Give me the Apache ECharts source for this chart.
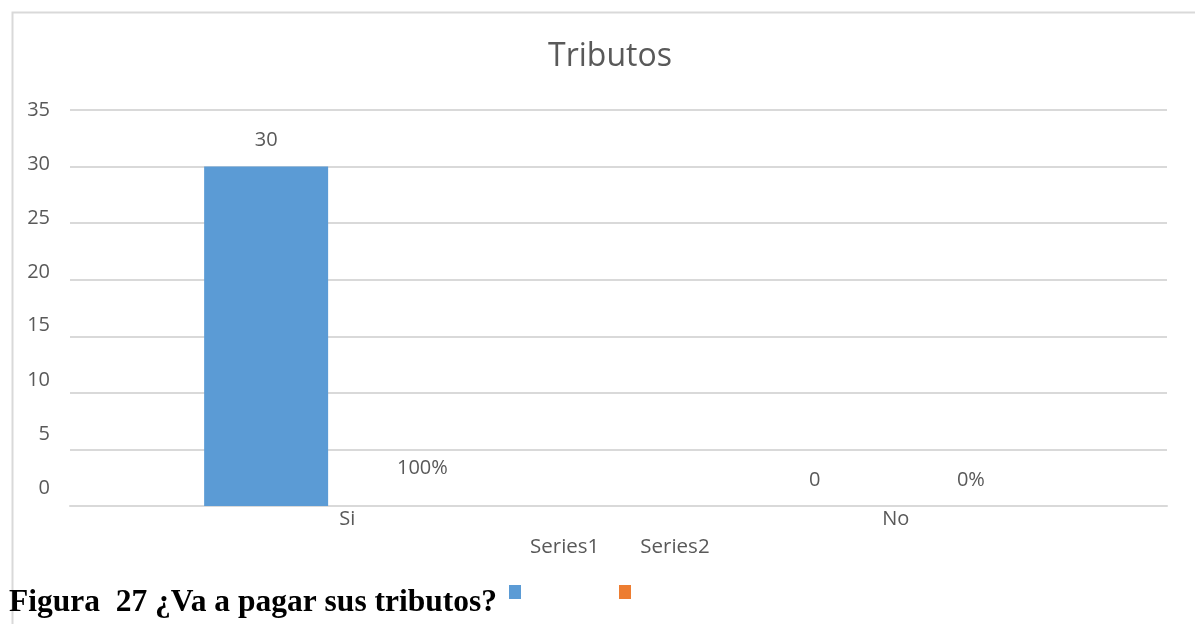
<!DOCTYPE html>
<html>
<head>
<meta charset="utf-8">
<script src="https://cdn.jsdelivr.net/npm/echarts@6/dist/echarts.min.js"></script>
<style>
  html, body { margin: 0; padding: 0; background: #fff; }
  #chart { width: 1195px; height: 624px; }
</style>
</head>
<body>
<div id="chart"></div>
<script>
// data
var categories = ['Si', 'No'];
var series1 = [30, 0];
var series2 = [1, 0];   // shares, shown as %
var seriesNames = ['Series1', 'Series2'];
var yTicks = [0, 5, 10, 15, 20, 25, 30, 35];

var textColor = '#595959';
var font = 'Open Sans';

// the y labels in the picture drift upward toward the bottom of the axis
var rich = {};
yTicks.forEach(function (v) {
  var shift = 2.57 * (35 - v) / 5;
  rich['t' + v] = {
    fontFamily: font, fontSize: 20, color: textColor,
    padding: [0, 0, Math.round(shift * 2), 0]
  };
});

var myChart = echarts.init(document.getElementById('chart'));
var option = {
  animation: false,
  title: {
    text: 'Tributos',
    left: 605,
    textAlign: 'center',
    top: 36,
    textStyle: { fontFamily: font, fontSize: 32, fontWeight: 'normal', color: textColor }
  },
  grid: { left: 70, right: 28, top: 110, bottom: 118 },
  legend: [
    {
      // legend text row
      data: seriesNames,
      left: 525,
      top: 537,
      padding: 0,
      itemWidth: 0,
      itemHeight: 0,
      itemGap: 36,
      selectedMode: false,
      textStyle: { fontFamily: font, fontSize: 20.5, color: textColor }
    },
    {
      // legend keys, drawn lower down in the picture
      data: [
        { name: 'Series1', itemStyle: { color: '#5B9BD5' } },
        { name: 'Series2', itemStyle: { color: '#ED7D31' } }
      ],
      left: 509,
      top: 585,
      padding: 0,
      icon: 'rect',
      itemWidth: 12,
      itemHeight: 14,
      itemGap: 98,
      selectedMode: false,
      formatter: function () { return ''; }
    }
  ],
  xAxis: {
    type: 'category',
    data: categories,
    axisTick: { show: false },
    axisLine: { lineStyle: { color: '#d9d9d9', width: 2 } },
    axisLabel: { fontFamily: font, fontSize: 20, color: textColor, margin: 3, padding: [0, 0, 0, 6] }
  },
  yAxis: {
    type: 'value',
    min: 0,
    max: 35,
    interval: 5,
    axisLine: { show: false },
    axisTick: { show: false },
    splitLine: { lineStyle: { color: '#d9d9d9', width: 2 } },
    axisLabel: {
      margin: 20,
      formatter: function (v) { return '{t' + v + '|' + v + '}'; },
      rich: rich
    }
  },
  graphic: [
    {
      type: 'rect',
      left: 10,
      top: 10,
      shape: { width: 1300, height: 800 },
      style: { fill: 'none', stroke: '#d9d9d9', lineWidth: 2 },
      silent: true
    },
    {
      type: 'text',
      left: 9,
      top: 587,
      style: {
        text: 'Figura  27 ¿Va a pagar sus tributos?',
        fontFamily: 'Liberation Serif',
        fontWeight: 'bold',
        fontSize: 31.5,
        fill: '#000'
      }
    }
  ],
  series: [
    {
      name: seriesNames[0],
      type: 'bar',
      data: series1,
      barWidth: 124,
      barGap: '26%',
      itemStyle: { color: '#5B9BD5' },
      label: {
        show: true,
        position: 'top',
        distance: 16,
        fontFamily: font,
        fontSize: 20,
        color: textColor
      }
    },
    {
      name: seriesNames[1],
      type: 'bar',
      data: series2,
      barWidth: 124,
      itemStyle: { color: 'rgba(237,125,49,0)' },
      label: {
        show: true,
        position: 'top',
        distance: 16,
        fontFamily: font,
        fontSize: 20,
        color: textColor,
        formatter: function (p) { return Math.round(p.value * 100) + '%'; }
      }
    }
  ]
};
if (option && typeof option === "object") {
  myChart.setOption(option, true);
}
</script>
</body>
</html>
